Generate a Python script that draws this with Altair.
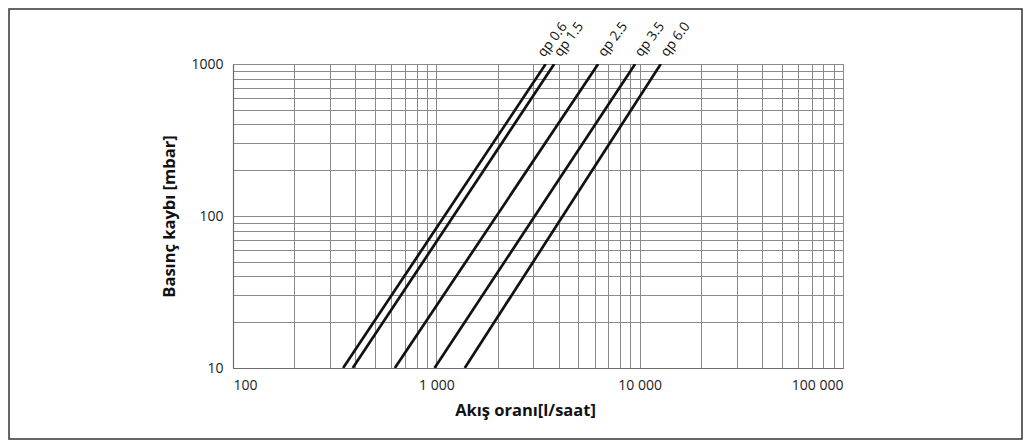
import altair as alt
import pandas as pd

# Series: flow rate at pressure loss 10 mbar and at 1000 mbar
series_names = ["qp 0.6", "qp 1.5", "qp 2.5", "qp 3.5", "qp 6.0"]
flow_at_10 = [348, 388, 625, 980, 1380]
flow_at_1000 = [3450, 3800, 6250, 9500, 12700]
pressure_low = 10
pressure_high = 1000

x_tick_values = [100, 1000, 10000, 100000]
x_tick_labels = ["100", "1 000", "10 000", "100 000"]
y_tick_values = [10, 100, 1000]
y_tick_labels = ["10", "100", "1000"]

x_grid = [m * d for d in [100, 1000, 10000] for m in range(1, 10)] + [100000]
y_grid = [m * d for d in [10, 100] for m in range(1, 10)] + [1000]

rows = []
for name, a, b in zip(series_names, flow_at_10, flow_at_1000):
    rows.append({"series": name, "Q": a, "dp": pressure_low})
    rows.append({"series": name, "Q": b, "dp": pressure_high})
df = pd.DataFrame(rows)
lab = pd.DataFrame({"series": series_names, "Q": flow_at_1000, "dp": [pressure_high] * len(series_names)})

def label_expr(vals, labels):
    parts = " : ".join(f"datum.value == {v} ? '{l}'" for v, l in zip(vals, labels))
    return parts + " : ''"

FONT = "Open Sans"
W, H = 610, 304
PL, PT, PR, PB = 225, 56, 180, 72

xscale = alt.Scale(type="log", domain=[100, 100000], nice=False)
yscale = alt.Scale(type="log", domain=[10, 1000], nice=False)

xaxis = alt.Axis(values=x_grid, labelExpr=label_expr(x_tick_values, x_tick_labels),
                 grid=True, gridColor="#8a8a8a", gridWidth=1, ticks=False,
                 domainColor="#6a6a6a", domainWidth=1.2, labelOverlap=False,
                 labelPadding=10, labelFontSize=14, labelFont=FONT, labelColor="#222",
                 title="Akış oranı[l/saat]", titleFont=FONT, titleFontSize=16.5,
                 titleFontWeight="bold", titleColor="#111", titlePadding=10,
                 titleX=292, titleAlign="center")
yaxis = alt.Axis(values=y_grid, labelExpr=label_expr(y_tick_values, y_tick_labels),
                 grid=True, gridColor="#8a8a8a", gridWidth=1, ticks=False,
                 domainColor="#6a6a6a", domainWidth=1.2, labelOverlap=False,
                 labelPadding=10, labelFontSize=14, labelFont=FONT, labelColor="#222",
                 title="Basınç kaybı [mbar]", titleFont=FONT, titleFontSize=16.5,
                 titleFontWeight="bold", titleColor="#111", titlePadding=13)

lines = alt.Chart(df).mark_line(color="#111", strokeWidth=2.7, clip=True).encode(
    x=alt.X("Q:Q", scale=xscale, axis=xaxis),
    y=alt.Y("dp:Q", scale=yscale, axis=yaxis),
    detail="series:N",
)

text_style = dict(angle=307, align="left", baseline="middle",
                  font=FONT, fontSize=13.5, color="#111")
enc = dict(x=alt.X("Q:Q", scale=xscale), y=alt.Y("dp:Q", scale=yscale), text="series:N")

labels_main = alt.Chart(lab).transform_filter(
    alt.datum.series != series_names[0]
).mark_text(dx=9, dy=-3, **text_style).encode(**enc)

labels_first = alt.Chart(lab).transform_filter(
    alt.datum.series == series_names[0]
).mark_text(dx=4, dy=-9, **text_style).encode(**enc)

frame = alt.Chart(pd.DataFrame({"a": [0]})).mark_rect(
    fill=None, stroke="#333", strokeWidth=1.5
).encode(
    x=alt.value(-PL + 1), x2=alt.value(W + PR - 1),
    y=alt.value(-PT + 1), y2=alt.value(H + PB - 1),
)

chart = alt.layer(lines, labels_main, labels_first, frame).properties(
    width=W, height=H,
    autosize=alt.AutoSizeParams(type="none"),
    padding={"left": PL, "top": PT, "right": PR, "bottom": PB},
).configure_view(stroke=None).configure(background="white")

chart.save("out.html", embed_options={"renderer": "svg", "actions": False})
